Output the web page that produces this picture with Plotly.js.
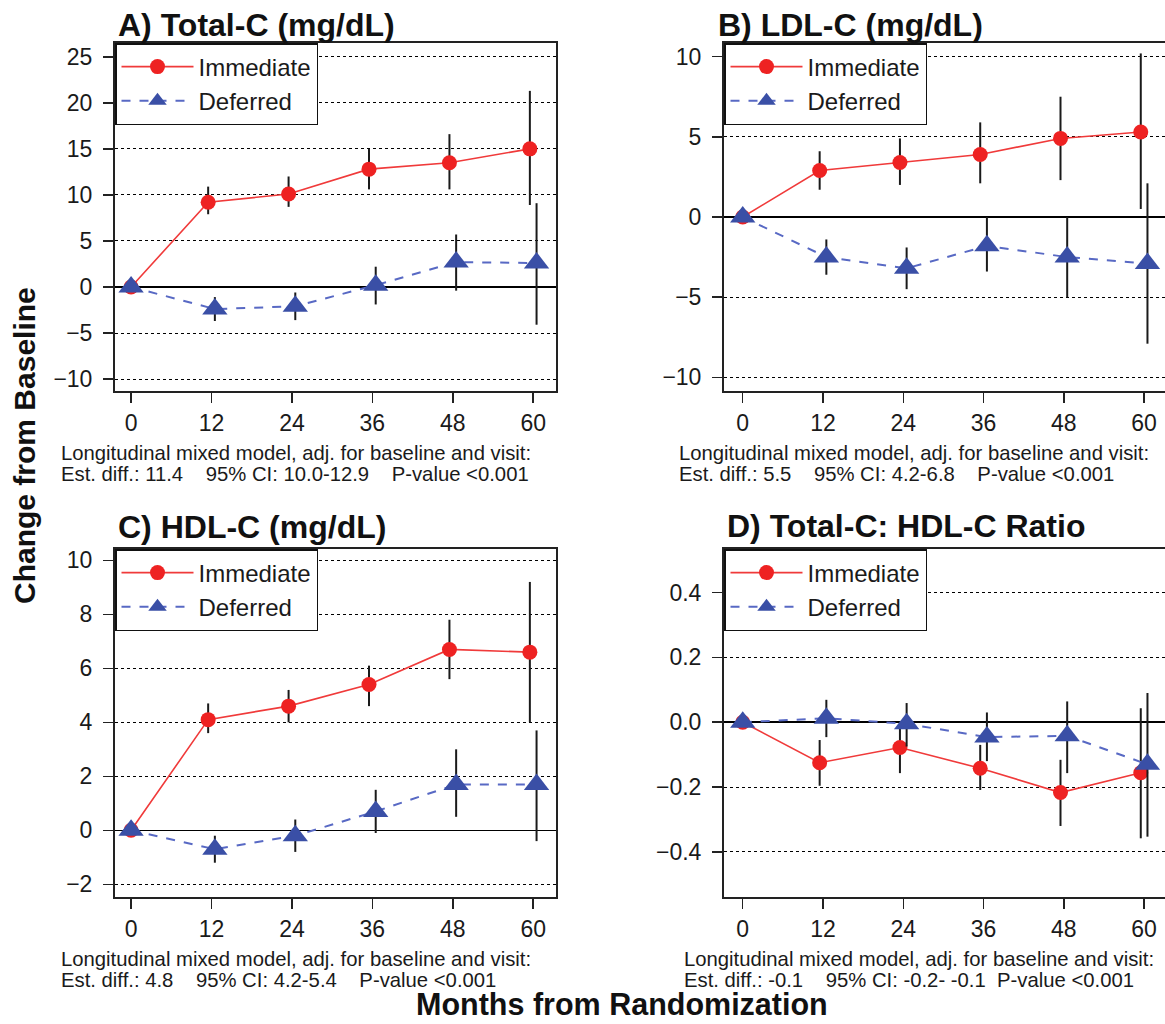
<!DOCTYPE html>
<html>
<head>
<meta charset="utf-8">
<script src="https://cdn.plot.ly/plotly-3.0.1.min.js"></script>
<style>
html,body{margin:0;padding:0;background:#fff;overflow:hidden;}
#chart{width:1168px;height:1024px;}
</style>
</head>
<body>
<div id="chart"></div>
<script>
// ---- Data ----
const months = [0, 12, 24, 36, 48, 60];
const seriesNames = ["Immediate", "Deferred"];

// A) Total-C
const totImmMean = [0, 9.2, 10.1, 12.8, 13.5, 15.0];
const totImmLo   = [0, 7.9, 8.7, 10.6, 10.6, 8.9];
const totImmHi   = [0, 10.9, 12.0, 15.0, 16.6, 21.3];
const totDefMean = [0, -2.4, -2.1, 0.2, 2.7, 2.6];
const totDefLo   = [0, -3.7, -3.6, -1.9, -0.4, -4.1];
const totDefHi   = [0, -1.1, -0.6, 2.2, 5.7, 9.1];

// B) LDL-C
const ldlImmMean = [0, 2.9, 3.4, 3.9, 4.9, 5.3];
const ldlImmLo   = [0, 1.7, 2.0, 2.1, 2.3, 0.5];
const ldlImmHi   = [0, 4.1, 4.9, 5.9, 7.5, 10.2];
const ldlDefMean = [0, -2.5, -3.2, -1.8, -2.5, -2.9];
const ldlDefLo   = [0, -3.6, -4.5, -3.4, -5.0, -7.9];
const ldlDefHi   = [0, -1.4, -1.9, 0.0, 0.0, 2.1];

// C) HDL-C
const hdlImmMean = [0, 4.1, 4.6, 5.4, 6.7, 6.6];
const hdlImmLo   = [0, 3.6, 4.0, 4.6, 5.6, 4.0];
const hdlImmHi   = [0, 4.7, 5.2, 6.1, 7.8, 9.2];
const hdlDefMean = [0, -0.7, -0.2, 0.7, 1.7, 1.7];
const hdlDefLo   = [0, -1.2, -0.8, -0.1, 0.5, -0.4];
const hdlDefHi   = [0, -0.2, 0.4, 1.5, 3.0, 3.7];

// D) Total-C : HDL-C ratio
const ratImmMean = [0, -0.125, -0.078, -0.142, -0.217, -0.156];
const ratImmLo   = [0, -0.196, -0.157, -0.209, -0.320, -0.358];
const ratImmHi   = [0, -0.055, 0.000, -0.070, -0.116, 0.043];
const ratDefMean = [0, 0.012, -0.005, -0.046, -0.042, -0.130];
const ratDefLo   = [0, -0.046, -0.075, -0.120, -0.157, -0.353];
const ratDefHi   = [0, 0.069, 0.059, 0.030, 0.064, 0.090];

const panelTitles = ["A) Total-C (mg/dL)", "B) LDL-C (mg/dL)", "C) HDL-C (mg/dL)", "D) Total-C: HDL-C Ratio"];
const noteLine1 = "Longitudinal mixed model, adj. for baseline and visit:";
const noteLine2 = [
  "Est. diff.: 11.4    95% CI: 10.0-12.9    P-value <0.001",
  "Est. diff.: 5.5    95% CI: 4.2-6.8    P-value <0.001",
  "Est. diff.: 4.8    95% CI: 4.2-5.4    P-value <0.001",
  "Est. diff.: -0.1    95% CI: -0.2- -0.1  P-value <0.001"
];
const yTitle = "Change from Baseline";
const xTitle = "Months from Randomization";

// ---- Layout helpers ----
const W = 1168, H = 1024;
const FONT = "Liberation Sans, Arial, Helvetica, sans-serif";
const px = v => v / W;
const py = v => 1 - v / H;

const panels = [
  {imm:[totImmMean,totImmLo,totImmHi], def:[totDefMean,totDefLo,totDefHi],
   xl:115, xr:556, yt:43, yb:391, xr0:[-2.4,63.4], yr:[-11.3,26.5], dtick:5, fmt:"", tx:116, ty:25, nx:59},
  {imm:[ldlImmMean,ldlImmLo,ldlImmHi], def:[ldlDefMean,ldlDefLo,ldlDefHi],
   xl:724, xr:1168, yt:43, yb:391, xr0:[-2.8,63.57], yr:[-10.85,10.85], dtick:5, fmt:"", tx:716, ty:25, nx:677},
  {imm:[hdlImmMean,hdlImmLo,hdlImmHi], def:[hdlDefMean,hdlDefLo,hdlDefHi],
   xl:115, xr:556, yt:549, yb:897, xr0:[-2.4,63.4], yr:[-2.47,10.42], dtick:2, fmt:"", tx:116, ty:527, nx:59},
  {imm:[ratImmMean,ratImmLo,ratImmHi], def:[ratDefMean,ratDefLo,ratDefHi],
   xl:724, xr:1168, yt:549, yb:897, xr0:[-2.8,63.57], yr:[-0.539,0.534], dtick:0.2, fmt:".1f", tx:725, ty:526, nx:682}
];

const RED = "#ee2222", RED_LINE = "#f03a3a";
const BLUE = "#3a4fa6", BLUE_LINE = "#5869c4";

const traces = [];
const layout = {
  width: W, height: H,
  margin: {l:0, r:0, t:0, b:0},
  paper_bgcolor: "#fff", plot_bgcolor: "#fff",
  font: {family: FONT, color: "#1a1a1a", size: 20},
  showlegend: true,
  annotations: [],
};

panels.forEach((p, i) => {
  const k = i === 0 ? "" : String(i + 1);
  const xa = "x" + k, ya = "y" + k;
  const lg = "legend" + k;
  const shiftImm = months.map(m => m === 0 ? m : m - 0.5);
  const shiftDef = months.map(m => m === 0 ? m : m + 0.5);
  const mk = (arr, xs, name, color, lineColor, dash, sym, size, lw) => ({
    type: "scatter", mode: "lines+markers", name: name,
    x: xs, y: arr[0], xaxis: xa, yaxis: ya, legend: lg,
    line: {color: lineColor, width: lw, dash: dash},
    marker: {color: color, symbol: sym, size: size, line: {width: 0}},
    error_y: {type: "data", symmetric: false,
      array: arr[2].map((h, j) => h - arr[0][j]),
      arrayminus: arr[0].map((m, j) => m - arr[1][j]),
      color: "#1a1a1a", thickness: 2, width: 0},
    cliponaxis: false
  });
  traces.push(mk(p.imm, shiftImm, seriesNames[0], RED, RED_LINE, "solid", "circle", 15, 1.6));
  traces.push(mk(p.def, shiftDef, seriesNames[1], BLUE, BLUE_LINE, "dash", "triangle-up", 22, 2));

  layout["xaxis" + k] = {
    domain: [px(p.xl), px(p.xr)], anchor: ya, range: p.xr0,
    tickmode: "array", tickvals: months, ticktext: months.map(String),
    showgrid: false, zeroline: false, showline: true, mirror: true,
    linecolor: "#222", linewidth: 2, ticks: "outside", ticklen: 10, tickwidth: 1.5,
    tickcolor: "#222", ticklabelstandoff: 0,
    tickfont: {size: 23, family: FONT, color: "#1a1a1a"}
  };
  layout["yaxis" + k] = {
    domain: [py(p.yb), py(p.yt)], anchor: xa, range: p.yr,
    tickmode: "linear", tick0: 0, dtick: p.dtick, tickformat: p.fmt,
    showgrid: true, gridcolor: "#000", gridwidth: 1, griddash: "dot",
    zeroline: true, zerolinecolor: "#000", zerolinewidth: 1.5,
    showline: true, mirror: true, linecolor: "#222", linewidth: 2,
    ticks: "outside", ticklen: 10, tickwidth: 1.5, tickcolor: "#222",
    ticklabelstandoff: 6,
    tickfont: {size: 23, family: FONT, color: "#1a1a1a"}
  };
  layout[lg] = {
    x: px(p.xl), y: py(p.yt), xanchor: "left", yanchor: "top",
    xref: "paper", yref: "paper",
    bgcolor: "#fff", bordercolor: "#111", borderwidth: 1.5,
    font: {size: 24, family: FONT, color: "#1a1a1a"},
    itemwidth: 72, tracegroupgap: 0
  };
  layout.annotations.push({
    text: "<b>" + panelTitles[i] + "</b>", xref: "paper", yref: "paper",
    x: px(p.tx), y: py(p.ty), xanchor: "left", yanchor: "middle", showarrow: false,
    font: {size: 32, family: FONT, color: "#111"}
  });
  const nb = s => s.replace(/ /g, "\u00a0").replace(/</g, "&lt;");
  layout.annotations.push({
    text: nb(noteLine1), xref: "paper", yref: "paper",
    x: px(p.nx), y: py(p.yb + 62), xanchor: "left", yanchor: "middle", showarrow: false,
    font: {size: 20.3, family: FONT, color: "#1a1a1a"}
  });
  layout.annotations.push({
    text: nb(noteLine2[i]), xref: "paper", yref: "paper",
    x: px(p.nx), y: py(p.yb + 83), xanchor: "left", yanchor: "middle", showarrow: false,
    font: {size: 20.3, family: FONT, color: "#1a1a1a"}
  });
});

layout.annotations.push({
  text: "<b>" + yTitle + "</b>", xref: "paper", yref: "paper",
  x: px(24), y: py(446), xanchor: "center", yanchor: "middle", textangle: -90, showarrow: false,
  font: {size: 30, family: FONT, color: "#111"}
});
layout.annotations.push({
  text: "<b>" + xTitle + "</b>", xref: "paper", yref: "paper",
  x: px(622), y: 0.001, xanchor: "center", yanchor: "bottom", showarrow: false,
  font: {size: 30.5, family: FONT, color: "#111"}
});

Plotly.newPlot("chart", traces, layout, {staticPlot: true, displayModeBar: false});
</script>
</body>
</html>
